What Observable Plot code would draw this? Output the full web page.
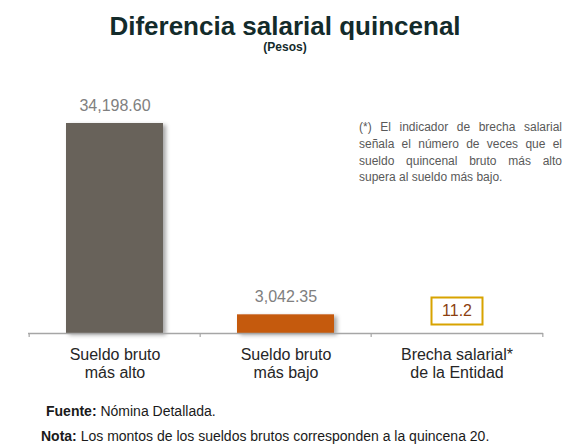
<!DOCTYPE html>
<html><head><meta charset="utf-8">
<script src="https://cdn.jsdelivr.net/npm/d3@7"></script>
<script src="https://cdn.jsdelivr.net/npm/@observablehq/plot@0.6"></script>
<style>
body{margin:0;background:#fff;font-family:"Liberation Sans",Arial,sans-serif;}
#wrap{position:relative;width:568px;height:447px;overflow:hidden;}
#title{position:absolute;left:1px;top:11px;width:568px;text-align:center;font-weight:bold;font-size:26px;line-height:30px;color:#132b2b;}
#sub{position:absolute;left:1px;top:40px;width:568px;text-align:center;font-weight:bold;font-size:12px;line-height:14px;color:#132b2b;}
#chart{position:absolute;left:0;top:60px;}
#nota-ast{position:absolute;left:359px;top:119px;width:203px;text-align:justify;text-align-last:left;font-size:12px;line-height:16.8px;color:#595959;}
.foot{position:absolute;font-size:14px;line-height:16px;color:#1a1a1a;white-space:nowrap;}
</style>
</head><body>
<div id="wrap">
  <div id="title">Diferencia salarial quincenal</div>
  <div id="sub">(Pesos)</div>
  <div id="chart"></div>
  <div id="nota-ast">(*) El indicador de brecha salarial señala el número de veces que el sueldo quincenal bruto más alto supera al sueldo más bajo.</div>
  <div class="foot" style="left:46px;top:403px;"><b>Fuente:</b> Nómina Detallada.</div>
  <div class="foot" style="left:41px;top:428px;"><b>Nota:</b> Los montos de los sueldos brutos corresponden a la quincena 20.</div>
</div>
<script>
const categories = ["Sueldo bruto\nmás alto", "Sueldo bruto\nmás bajo", "Brecha salarial*\nde la Entidad"];
const sueldos = [34198.60, 3042.35];
const brecha = [11.2];
const barColors = ["#67625a", "#c55a11"];

const barData = sueldos.map((v, i) => ({cat: categories[i], value: v, color: barColors[i]}));

const W = 568, H = 335, mL = 28, mR = 25;
const half = (W - mL - mR) / 3 / 2;
const boxSymbol = {draw(ctx) { ctx.rect(-25.5, -13.5, 51, 27); }};

const chart = Plot.plot({
  width: W, height: H,
  marginTop: 63, marginBottom: 62, marginLeft: mL, marginRight: mR,
  style: {fontFamily: "'Liberation Sans', Arial, sans-serif", background: "transparent"},
  x: {domain: categories, axis: null, padding: 0},
  y: {domain: [0, sueldos[0]], axis: null},
  color: {type: "identity"},
  marks: [
    Plot.barY(barData, {x: "cat", y: "value", fill: "color", insetLeft: 37, insetRight: 37}),
    Plot.ruleY([0], {stroke: "#a6a6a6", strokeWidth: 1.5}),
    Plot.ruleX(categories, {x: d => d, dx: -half, insetTop: 206, dy: 4, stroke: "#a6a6a6", strokeWidth: 1.2}),
    Plot.ruleX([categories[2]], {x: d => d, dx: half, insetTop: 206, dy: 4, stroke: "#a6a6a6", strokeWidth: 1.2}),
    Plot.text(barData, {x: "cat", y: "value", text: d => d3.format(",.2f")(d.value), dy: -13, lineAnchor: "bottom", fill: "#808080", fontSize: 16}),
    Plot.text(categories, {x: d => d, y: 0, text: d => d, lineAnchor: "top", dy: 13, fontSize: 16, lineHeight: 1.15, fill: "#262626"}),
    Plot.dot(brecha, {x: () => categories[2], y: 0, dy: -22.5, symbol: boxSymbol, stroke: "#d8a300", strokeWidth: 2, fill: "white"}),
    Plot.text(brecha, {x: () => categories[2], y: 0, dy: -22.5, text: d => d.toFixed(1), fill: "#8c3f0f", fontSize: 16, lineAnchor: "middle"})
  ]
});

// drop shadow for the bars
const svg = d3.select(chart);
const defs = svg.insert("defs", ":first-child");
defs.append("filter").attr("id", "shadow").attr("x", "-20%").attr("y", "-20%").attr("width", "150%").attr("height", "150%")
  .append("feDropShadow").attr("dx", 3).attr("dy", 2).attr("stdDeviation", 2).attr("flood-color", "#000").attr("flood-opacity", 0.35);
svg.select('g[aria-label="bar"]').attr("filter", "url(#shadow)");

document.getElementById("chart").appendChild(chart);
</script>
</body></html>
